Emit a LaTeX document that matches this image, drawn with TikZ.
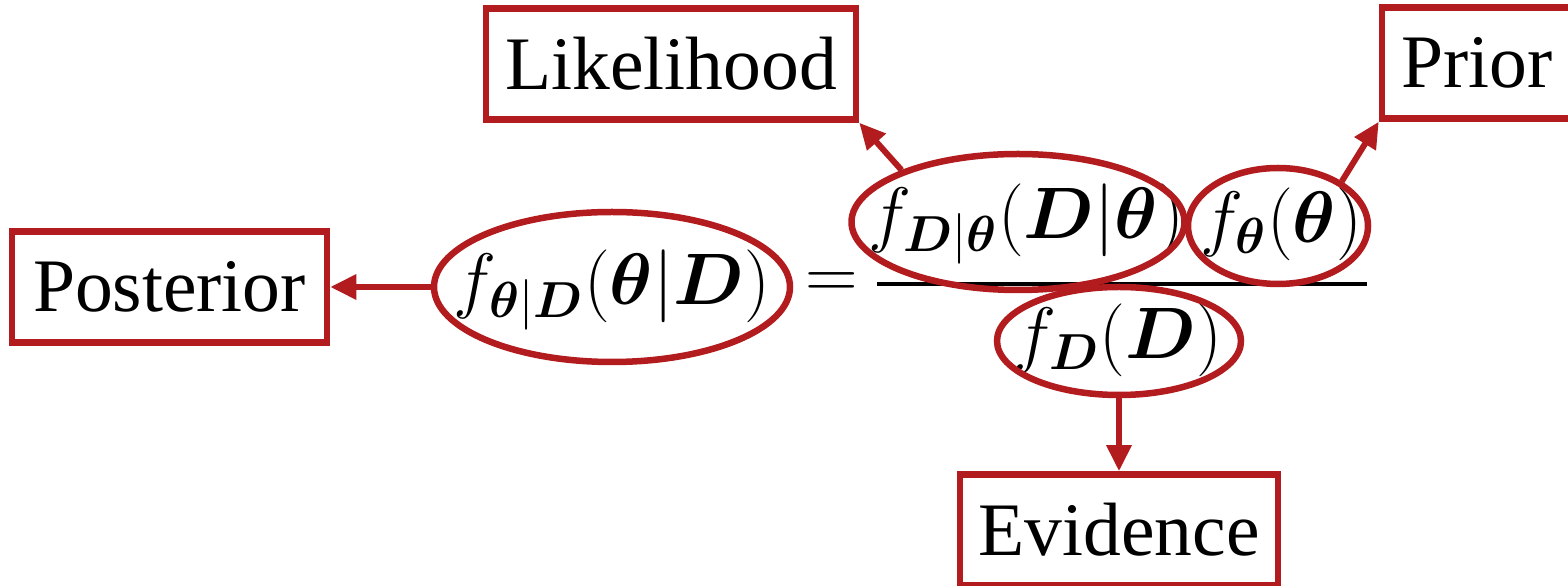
\documentclass[tikz,border=0pt]{standalone}
\usepackage{amsmath,amssymb}
\usepackage{fontspec}
\setmainfont{Liberation Serif}
\usetikzlibrary{arrows.meta,shapes.geometric,positioning}
\definecolor{bayesred}{RGB}{178,28,30}
\newcommand{\bth}{\boldsymbol{\theta}}
\newcommand{\bD}{\boldsymbol{D}}

\begin{document}
\begin{tikzpicture}[x=0.1mm,y=-0.1mm]
\tikzset{
  termbox/.style={rectangle,draw=bayesred,line width=0.65mm,minimum height=11.1mm,inner sep=0pt,font=\fontsize{21.5}{26}\selectfont},
  termoval/.style={ellipse,draw=bayesred,line width=0.65mm,inner sep=0pt},
  pointer/.style={-{Triangle[length=2.6mm,width=2.4mm]},draw=bayesred,line width=0.6mm},
  formula/.style={inner sep=0pt,font=\fontsize{21.5}{26}\selectfont}
}
\useasboundingbox (0,0) rectangle (1568,586);
% labels
\node[termbox,minimum width=31.5mm] (t_post) at (169.5,287) {Posterior};
\node[termbox,minimum width=37mm] (t_lik) at (671,64) {Likelihood};
\node[termbox,minimum width=19mm] (t_prior) at (1477,63) {Prior};
\node[termbox,minimum width=31.8mm] (t_evi) at (1119,530) {Evidence};
% formula
\node[formula] (f_post) at (612,290) {$f_{\bth|\bD}(\bth|\bD)$};
\node[formula] (f_eq) at (832,286) {$=$};
\node[formula] (f_lik) at (1026,224) {$f_{\bD|\bth}(\bD|\bth)$};
\node[formula] (f_prior) at (1281,224) {$f_{\bth}(\bth)$};
\node[formula] (f_evi) at (1118,340) {$f_{\bD}(\bD)$};
\draw[line width=0.4mm] (877,284) -- (1367,284);
% circled terms
\node[termoval,minimum width=35.6mm,minimum height=15mm] (n_post) at (612,287) {};
\node[termoval,minimum width=33.3mm,minimum height=13.6mm] (n_lik) at (1018,222) {};
\node[termoval,minimum width=18mm,minimum height=11.6mm] (n_prior) at (1278,226) {};
\node[termoval,minimum width=24.4mm,minimum height=10.8mm] (n_evi) at (1119,341) {};
% pointers
\draw[pointer] (n_post.west) -- (t_post.east);
\draw[pointer] (n_lik.156) -- (t_lik.south east);
\draw[pointer] (n_prior.35) -- (t_prior.south west);
\draw[pointer] (n_evi.south) -- (t_evi.north);
\end{tikzpicture}
\end{document}
